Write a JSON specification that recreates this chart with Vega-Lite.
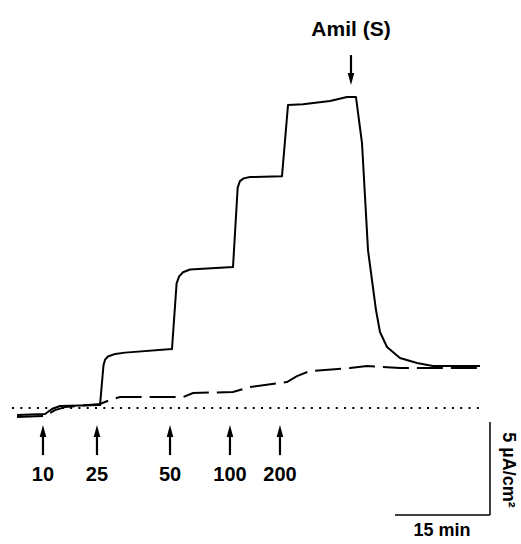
{
  "$schema": "https://vega.github.io/schema/vega-lite/v6.json",
  "width": 521,
  "height": 544,
  "autosize": {"type": "fit", "contains": "padding"},
  "padding": 0,
  "background": "white",
  "config": {"view": {"stroke": null}},
  "datasets": {
    "trace": [
      {"series": "solid", "t": 2.69, "i": -0.38}, {"series": "solid", "t": 7.11, "i": -0.32},
      {"series": "solid", "t": 8.21, "i": -0.05}, {"series": "solid", "t": 9.48, "i": 0.11},
      {"series": "solid", "t": 15.8, "i": 0.16}, {"series": "solid", "t": 16.35, "i": 2.3},
      {"series": "solid", "t": 16.6, "i": 2.6}, {"series": "solid", "t": 17.06, "i": 2.77},
      {"series": "solid", "t": 18.2, "i": 2.91}, {"series": "solid", "t": 19.75, "i": 2.98},
      {"series": "solid", "t": 27.17, "i": 3.17}, {"series": "solid", "t": 27.9, "i": 6.7},
      {"series": "solid", "t": 28.3, "i": 7.08}, {"series": "solid", "t": 28.91, "i": 7.3},
      {"series": "solid", "t": 30.02, "i": 7.45}, {"series": "solid", "t": 36.81, "i": 7.58},
      {"series": "solid", "t": 37.55, "i": 11.85}, {"series": "solid", "t": 37.9, "i": 12.2},
      {"series": "solid", "t": 38.5, "i": 12.35}, {"series": "solid", "t": 39.49, "i": 12.42},
      {"series": "solid", "t": 44.55, "i": 12.47}, {"series": "solid", "t": 45.5, "i": 16.29},
      {"series": "solid", "t": 47.87, "i": 16.34}, {"series": "solid", "t": 52.13, "i": 16.51},
      {"series": "solid", "t": 54.82, "i": 16.72}, {"series": "solid", "t": 56.24, "i": 16.72},
      {"series": "solid", "t": 57.19, "i": 14.25}, {"series": "solid", "t": 58.14, "i": 8.49},
      {"series": "solid", "t": 59.4, "i": 5.27}, {"series": "solid", "t": 60.03, "i": 4.09},
      {"series": "solid", "t": 61.14, "i": 3.28}, {"series": "solid", "t": 63.19, "i": 2.69},
      {"series": "solid", "t": 65.88, "i": 2.42}, {"series": "solid", "t": 68.4, "i": 2.26},
      {"series": "solid", "t": 75.83, "i": 2.26}
    ],
    "trace2": [
      {"series": "dashed", "t": 2.69, "i": -0.48}, {"series": "dashed", "t": 7.11, "i": -0.43},
      {"series": "dashed", "t": 8.69, "i": -0.11}, {"series": "dashed", "t": 10.27, "i": 0.05},
      {"series": "dashed", "t": 15.8, "i": 0.22}, {"series": "dashed", "t": 17.38, "i": 0.43},
      {"series": "dashed", "t": 18.96, "i": 0.59}, {"series": "dashed", "t": 28.91, "i": 0.59},
      {"series": "dashed", "t": 30.49, "i": 0.81}, {"series": "dashed", "t": 36.81, "i": 0.86},
      {"series": "dashed", "t": 39.49, "i": 1.13}, {"series": "dashed", "t": 45.34, "i": 1.4},
      {"series": "dashed", "t": 46.92, "i": 1.72}, {"series": "dashed", "t": 48.97, "i": 1.99},
      {"series": "dashed", "t": 55.29, "i": 2.15}, {"series": "dashed", "t": 57.98, "i": 2.26},
      {"series": "dashed", "t": 63.19, "i": 2.15}, {"series": "dashed", "t": 75.83, "i": 2.15}
    ],
    "baseline": [{"t": 1.9, "i": 0}, {"t": 76.6, "i": 0}],
    "shafts": [
      {"t": 6.79, "i": -2.53, "i2": -1.45}, {"t": 15.32, "i": -2.53, "i2": -1.45},
      {"t": 26.86, "i": -2.53, "i2": -1.45}, {"t": 36.33, "i": -2.53, "i2": -1.45},
      {"t": 44.23, "i": -2.53, "i2": -1.45}, {"t": 55.45, "i": 18.98, "i2": 17.9}
    ],
    "headsUp": [
      {"t": 6.79, "i": -1.24}, {"t": 15.32, "i": -1.24}, {"t": 26.86, "i": -1.24},
      {"t": 36.33, "i": -1.24}, {"t": 44.23, "i": -1.24}
    ],
    "headsDown": [{"t": 55.45, "i": 17.69}],
    "labels": [
      {"t": 6.79, "i": -3.62, "label": "10"}, {"t": 15.32, "i": -3.62, "label": "25"},
      {"t": 26.86, "i": -3.62, "label": "50"}, {"t": 36.33, "i": -3.62, "label": "100"},
      {"t": 44.23, "i": -3.62, "label": "200"}
    ],
    "amil": [{"t": 55.45, "i": 20.32, "label": "Amil (S)"}],
    "scalebar": [
      {"t": 77.41, "i": -0.75, "t2": 77.41, "i2": -5.75},
      {"t": 62.4, "i": -5.75, "t2": 77.41, "i2": -5.75}
    ],
    "scalex": [{"t": 69.83, "i": -6.62, "label": "15 min"}],
    "scaley": [{"t": 80.3, "i": -3.33, "label": "5 µA/cm²"}]
  },
  "layer": [
    {
      "data": {"name": "baseline"},
      "mark": {"type": "line", "color": "black", "strokeWidth": 2, "strokeDash": [2, 6.3]},
      "encoding": {
        "x": {"field": "t", "type": "quantitative", "scale": {"domain": [0, 82.31], "nice": false, "zero": false}, "axis": null},
        "y": {"field": "i", "type": "quantitative", "scale": {"domain": [-7.31, 21.94], "nice": false, "zero": false}, "axis": null}
      }
    },
    {
      "data": {"name": "trace2"},
      "mark": {"type": "line", "color": "black", "strokeWidth": 2, "strokeDash": [26, 8]},
      "encoding": {
        "x": {"field": "t", "type": "quantitative", "axis": null},
        "y": {"field": "i", "type": "quantitative", "axis": null}
      }
    },
    {
      "data": {"name": "trace"},
      "mark": {"type": "line", "color": "black", "strokeWidth": 2, "strokeJoin": "round"},
      "encoding": {
        "x": {"field": "t", "type": "quantitative", "axis": null},
        "y": {"field": "i", "type": "quantitative", "axis": null}
      }
    },
    {
      "data": {"name": "shafts"},
      "mark": {"type": "rule", "color": "black", "strokeWidth": 2.2},
      "encoding": {
        "x": {"field": "t", "type": "quantitative", "axis": null},
        "y": {"field": "i", "type": "quantitative", "axis": null},
        "y2": {"field": "i2"}
      }
    },
    {
      "data": {"name": "headsUp"},
      "mark": {"type": "point", "filled": true, "color": "black", "opacity": 1, "size": 144, "shape": "M0,-1L0.55,1L-0.55,1Z"},
      "encoding": {
        "x": {"field": "t", "type": "quantitative", "axis": null},
        "y": {"field": "i", "type": "quantitative", "axis": null}
      }
    },
    {
      "data": {"name": "headsDown"},
      "mark": {"type": "point", "filled": true, "color": "black", "opacity": 1, "size": 144, "shape": "M0,1L0.55,-1L-0.55,-1Z"},
      "encoding": {
        "x": {"field": "t", "type": "quantitative", "axis": null},
        "y": {"field": "i", "type": "quantitative", "axis": null}
      }
    },
    {
      "data": {"name": "labels"},
      "mark": {"type": "text", "color": "black", "font": "Liberation Sans", "fontSize": 20, "fontWeight": "bold", "baseline": "middle", "align": "center"},
      "encoding": {
        "x": {"field": "t", "type": "quantitative", "axis": null},
        "y": {"field": "i", "type": "quantitative", "axis": null},
        "text": {"field": "label"}
      }
    },
    {
      "data": {"name": "amil"},
      "mark": {"type": "text", "color": "black", "font": "Liberation Sans", "fontSize": 21, "fontWeight": "bold", "baseline": "middle", "align": "center"},
      "encoding": {
        "x": {"field": "t", "type": "quantitative", "axis": null},
        "y": {"field": "i", "type": "quantitative", "axis": null},
        "text": {"field": "label"}
      }
    },
    {
      "data": {"name": "scalebar"},
      "mark": {"type": "rule", "color": "black", "strokeWidth": 1.5},
      "encoding": {
        "x": {"field": "t", "type": "quantitative", "axis": null},
        "y": {"field": "i", "type": "quantitative", "axis": null},
        "x2": {"field": "t2"},
        "y2": {"field": "i2"}
      }
    },
    {
      "data": {"name": "scalex"},
      "mark": {"type": "text", "color": "black", "font": "Liberation Sans", "fontSize": 18, "fontWeight": "bold", "baseline": "middle", "align": "center"},
      "encoding": {
        "x": {"field": "t", "type": "quantitative", "axis": null},
        "y": {"field": "i", "type": "quantitative", "axis": null},
        "text": {"field": "label"}
      }
    },
    {
      "data": {"name": "scaley"},
      "mark": {"type": "text", "color": "black", "font": "Liberation Sans", "fontSize": 18, "fontWeight": "bold", "baseline": "middle", "align": "center", "angle": 90},
      "encoding": {
        "x": {"field": "t", "type": "quantitative", "axis": null},
        "y": {"field": "i", "type": "quantitative", "axis": null},
        "text": {"field": "label"}
      }
    }
  ]
}
